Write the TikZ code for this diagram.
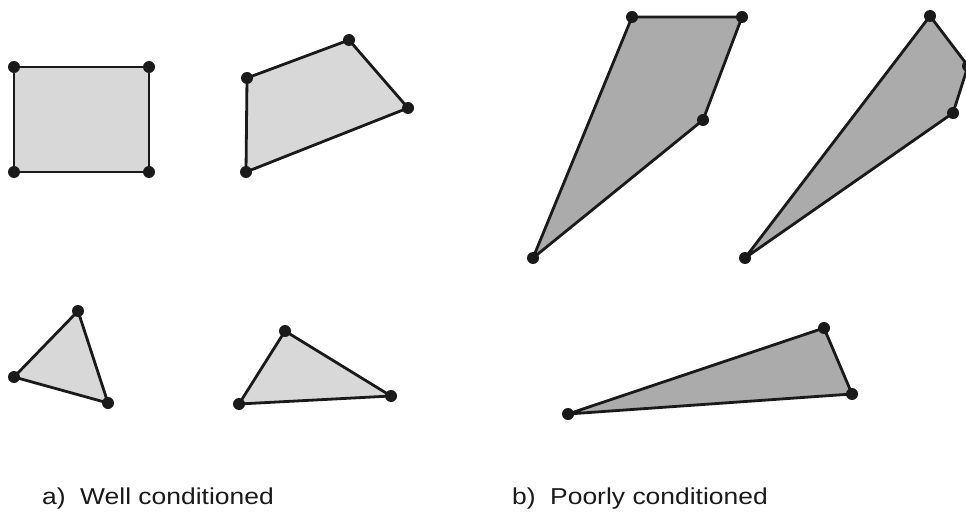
\documentclass[tikz,border=0pt]{standalone}
\usepackage{fontspec}
\setmainfont{Liberation Sans}
\definecolor{lightfill}{HTML}{D8D8D8}
\definecolor{darkfill}{HTML}{ABABAB}
\definecolor{edge}{HTML}{1A1A1A}
\begin{document}
\begin{tikzpicture}[x=1pt,y=-1pt,
  lightpoly/.style={fill=lightfill,draw=edge,line width=2.8pt,line join=round},
  darkpoly/.style={fill=darkfill,draw=edge,line width=2.8pt,line join=round},
  vtx/.style={circle,fill=edge,inner sep=0pt,minimum size=12pt},
  caption/.style={anchor=base west,inner sep=0pt,font=\fontsize{23}{26}\selectfont,text=edge}]
\useasboundingbox (0,0) rectangle (966,513);
% a) well conditioned
\coordinate (r1) at (14,67); \coordinate (r2) at (149,67);
\coordinate (r3) at (149,172); \coordinate (r4) at (14,172);
\coordinate (q1) at (247,78); \coordinate (q2) at (349,40);
\coordinate (q3) at (408,108); \coordinate (q4) at (246,172);
\coordinate (t1) at (78,311); \coordinate (t2) at (14,377); \coordinate (t3) at (108,403);
\coordinate (u1) at (285,331); \coordinate (u2) at (391,396); \coordinate (u3) at (239,404);
% b) poorly conditioned
\coordinate (p1) at (632,17); \coordinate (p2) at (742,17);
\coordinate (p3) at (703,120); \coordinate (p4) at (533,258);
\coordinate (s1) at (930,16); \coordinate (s2) at (968,66);
\coordinate (s3) at (953,113); \coordinate (s4) at (745,258);
\coordinate (w1) at (824,328); \coordinate (w2) at (852,394); \coordinate (w3) at (568,414);

\draw[lightpoly] (r1) -- (r2) -- (r3) -- (r4) -- cycle;
\draw[lightpoly] (q1) -- (q2) -- (q3) -- (q4) -- cycle;
\draw[lightpoly] (t1) -- (t2) -- (t3) -- cycle;
\draw[lightpoly] (u1) -- (u2) -- (u3) -- cycle;
\draw[darkpoly] (p1) -- (p2) -- (p3) -- (p4) -- cycle;
\draw[darkpoly] (s1) -- (s2) -- (s3) -- (s4) -- cycle;
\draw[darkpoly] (w1) -- (w2) -- (w3) -- cycle;

\foreach \c in {r1,r2,r3,r4,q1,q2,q3,q4,t1,t2,t3,u1,u2,u3,p1,p2,p3,p4,s1,s2,s3,s4,w1,w2,w3}
  \node[vtx] (d\c) at (\c) {};

\node[caption] (capa) at (42,504) {\scalebox{1.15}[1]{a)\hspace{12.6pt}Well conditioned}};
\node[caption] (capb) at (512,504) {\scalebox{1.15}[1]{b)\hspace{12.6pt}Poorly conditioned}};
\end{tikzpicture}
\end{document}
